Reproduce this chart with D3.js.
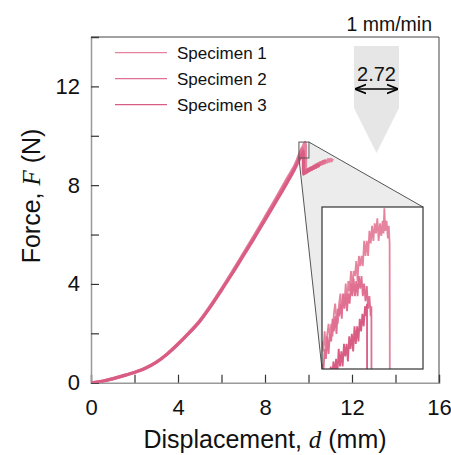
<!DOCTYPE html>
<html>
<head>
<meta charset="utf-8">
<script src="https://cdn.jsdelivr.net/npm/d3@7"></script>
<style>
  body { margin: 0; background: #fff; }
  text { font-family: "Liberation Sans", Arial, sans-serif; }
</style>
</head>
<body>
<script>
// ---- data ----
const specimenNames = ["Specimen 1", "Specimen 2", "Specimen 3"];
const specimenColors = ["#e6849f", "#e07092", "#d95c83"];

// [displacement mm, force N]
const specimen1 = [
  [0,0],[0.4,0.05],[0.8,0.13],[1.2,0.22],[1.6,0.32],[2.0,0.43],[2.5,0.6],[3.0,0.84],[3.5,1.17],[4.0,1.58],
  [4.5,2.03],[5.0,2.52],[5.5,3.13],[6.0,3.8],[6.5,4.5],[7.0,5.22],[7.5,5.95],[8.0,6.7],[8.5,7.46],[9.0,8.24],
  [9.5,9.06],
  [9.560,9.21],[9.566,9.17],[9.572,9.25],[9.578,9.18],[9.584,9.24],[9.590,9.28],[9.596,9.22],[9.602,9.28],
  [9.608,9.23],[9.614,9.32],[9.620,9.36],[9.626,9.30],[9.632,9.28],[9.638,9.36],[9.644,9.40],[9.650,9.33],
  [9.656,9.38],[9.662,9.36],[9.668,9.44],[9.674,9.36],[9.680,9.45],[9.686,9.41],[9.692,9.49],[9.698,9.42],
  [9.704,9.49],[9.710,9.47],[9.716,9.53],[9.722,9.45],[9.728,9.55],[9.734,9.51],[9.740,9.55],[9.746,9.51],
  [9.752,9.61],[9.758,9.55],[9.764,9.61],[9.770,9.55],[9.776,9.65],[9.782,9.60],[9.788,9.67],[9.794,9.61],
  [9.800,9.68],[9.806,9.64],[9.812,9.70],[9.818,9.61],[9.824,9.68],[9.830,9.63],[9.836,9.69],[9.840,9.64],
  [9.844,9.74],[9.848,9.65],[9.854,9.69],[9.860,9.62],[9.864,9.67],[9.868,9.60],[9.870,8.50],
  [9.90,8.52],[9.93,8.62],[9.96,8.55],[10.0,8.64],[10.05,8.58],[10.1,8.70],[10.15,8.64],[10.2,8.74],
  [10.25,8.68],[10.3,8.80],[10.35,8.74],[10.4,8.84],[10.45,8.78],[10.5,8.90],[10.55,8.83],[10.6,8.92],
  [10.65,8.86],[10.7,8.97],[10.75,8.90],[10.8,8.98],[10.85,8.93],[10.9,9.04],[10.95,8.96],[11.0,9.05],
  [11.05,8.98],[11.1,9.08]
];
const specimen2 = [
  [0,0],[0.4,0.03],[0.8,0.11],[1.2,0.2],[1.6,0.3],[2.0,0.41],[2.5,0.58],[3.0,0.82],[3.5,1.15],[4.0,1.55],
  [4.5,2.0],[5.0,2.49],[5.5,3.1],[6.0,3.77],[6.5,4.46],[7.0,5.18],[7.5,5.9],[8.0,6.65],[8.5,7.4],[9.0,8.17],
  [9.5,8.98],
  [9.560,9.12],[9.566,9.08],[9.572,9.18],[9.578,9.14],[9.584,9.23],[9.590,9.16],[9.596,9.24],[9.602,9.21],
  [9.608,9.30],[9.614,9.25],[9.620,9.31],[9.626,9.24],[9.632,9.34],[9.638,9.31],[9.644,9.36],[9.650,9.30],
  [9.656,9.40],[9.662,9.34],[9.668,9.40],[9.674,9.33],[9.680,9.40],[9.686,9.36],[9.692,9.44],[9.698,9.39],
  [9.704,9.46],[9.710,9.39],[9.716,9.45],[9.722,9.39],[9.728,9.47],[9.734,9.42],[9.740,9.47],[9.746,9.39],
  [9.752,9.44],[9.758,9.37],[9.764,9.43],[9.770,9.34],[9.776,9.39],[9.782,9.31],[9.785,9.35],[9.786,8.46],
  [9.82,8.49],[9.86,8.57],[9.9,8.52],[9.95,8.62],[10.0,8.57],[10.05,8.67],[10.1,8.62],[10.15,8.72],
  [10.2,8.68],[10.25,8.78],[10.3,8.72],[10.35,8.83],[10.4,8.78],[10.45,8.88],[10.5,8.82],[10.55,8.92],
  [10.6,8.87],[10.65,8.96],[10.7,8.9],[10.75,8.99],[10.8,8.95]
];
const specimen3 = [
  [0,0],[0.4,0.04],[0.8,0.12],[1.2,0.21],[1.6,0.31],[2.0,0.42],[2.5,0.59],[3.0,0.83],[3.5,1.16],[4.0,1.56],
  [4.5,2.0],[5.0,2.48],[5.5,3.08],[6.0,3.74],[6.5,4.42],[7.0,5.13],[7.5,5.84],[8.0,6.58],[8.5,7.32],[9.0,8.07],
  [9.5,8.9],
  [9.560,9.03],[9.570,9.01],[9.580,9.08],[9.590,9.04],[9.600,9.11],[9.606,9.06],[9.612,9.13],[9.618,9.08],
  [9.624,9.14],[9.630,9.08],[9.636,9.18],[9.642,9.11],[9.648,9.17],[9.654,9.11],[9.660,9.20],[9.666,9.15],
  [9.672,9.20],[9.678,9.13],[9.684,9.23],[9.690,9.18],[9.696,9.24],[9.702,9.17],[9.708,9.27],[9.714,9.20],
  [9.720,9.27],[9.726,9.21],[9.732,9.30],[9.738,9.25],[9.744,9.32],[9.750,9.27],[9.756,9.35],[9.762,9.31],
  [9.765,9.36],[9.766,8.44],
  [9.8,8.47],[9.84,8.55],[9.88,8.5],[9.92,8.6],[9.96,8.55],[10.0,8.64],[10.05,8.6],[10.1,8.68],
  [10.15,8.63],[10.2,8.73],[10.25,8.68],[10.3,8.77],[10.35,8.72],[10.4,8.82],[10.45,8.77],[10.5,8.86]
];
const specimens = [specimen1, specimen2, specimen3];

const xTicks = [0, 2, 4, 6, 8, 10, 12, 14, 16];
const yTicks = [0, 2, 4, 6, 8, 10, 12, 14];
const zoomX = [9.56, 10.02];   // zoomed window (mm)
const zoomY = [9.10, 9.745];   // zoomed window (N)
const rateLabel = "1 mm/min";
const widthLabel = "2.72";

// ---- layout ----
const W = 451, H = 455;
const plot = { left: 91, right: 439, top: 37, bottom: 382.7 };
const inset = { left: 322, right: 423, top: 207, bottom: 369 };

const svg = d3.select("body").append("svg")
  .attr("width", W)
  .attr("height", H);

const x = d3.scaleLinear().domain([0, 16]).range([plot.left, plot.right]);
const y = d3.scaleLinear().domain([0, 14]).range([plot.bottom, plot.top]);

const defs = svg.append("defs");
defs.append("clipPath").attr("id", "plotClip")
  .append("rect")
  .attr("x", plot.left).attr("y", plot.top)
  .attr("width", plot.right - plot.left).attr("height", plot.bottom - plot.top);
defs.append("clipPath").attr("id", "insetClip")
  .append("rect")
  .attr("x", inset.left).attr("y", inset.top)
  .attr("width", inset.right - inset.left).attr("height", inset.bottom - inset.top);
defs.append("marker").attr("id", "arrowHead")
  .attr("viewBox", "0 0 10 10").attr("refX", 9).attr("refY", 5)
  .attr("markerWidth", 7).attr("markerHeight", 7).attr("orient", "auto-start-reverse")
  .append("path").attr("d", "M0,1 L10,5 L0,9").attr("fill", "none").attr("stroke", "#000").attr("stroke-width", 1.6);

// speed indicator (grey arrow)
const ax0 = 354, ax1 = 399, ay0 = 46, ay1 = 108, aTip = 153;
svg.append("path")
  .attr("d", `M${ax0},${ay0}H${ax1}V${ay1}L${(ax0 + ax1) / 2},${aTip}L${ax0},${ay1}Z`)
  .attr("fill", "#e6e6e6");

// zoom connector (grey wedge)
const sTR = [x(zoomX[1]), y(zoomY[1])];
const sBL = [x(zoomX[0]), y(zoomY[0])];
svg.append("path")
  .attr("d", `M${sTR}L${inset.right},${inset.top}L${inset.right},${inset.bottom}L${inset.left},${inset.bottom}L${sBL}Z`)
  .attr("fill", "#ececec");
svg.append("rect")
  .attr("x", x(zoomX[0])).attr("y", y(zoomY[1]))
  .attr("width", x(zoomX[1]) - x(zoomX[0])).attr("height", y(zoomY[0]) - y(zoomY[1]))
  .attr("fill", "#fff");

// axes
const xAxis = svg.append("g")
  .attr("transform", `translate(0,${plot.bottom})`)
  .call(d3.axisBottom(x).tickValues(xTicks).tickSize(-8).tickPadding(17)
    .tickFormat(d => d % 4 === 0 ? d : ""));
const yAxis = svg.append("g")
  .attr("transform", `translate(${plot.left},0)`)
  .call(d3.axisLeft(y).tickValues(yTicks).tickSize(-8).tickPadding(11)
    .tickFormat(d => d % 4 === 0 ? d : ""));
[xAxis, yAxis].forEach(g => {
  g.select(".domain").attr("stroke", "#999").attr("stroke-width", 1.5);
  g.selectAll(".tick line").attr("stroke", "#333").attr("stroke-width", 1.2);
  g.selectAll(".tick text")
    .attr("fill", "#111")
    .style("font-family", "'Liberation Sans', Arial, sans-serif")
    .style("font-size", "22px");
});
// top and right frame
svg.append("path")
  .attr("d", `M${plot.left},${plot.top}H${plot.right}V${plot.bottom}`)
  .attr("fill", "none").attr("stroke", "#444").attr("stroke-width", 1);

// main curves
const line = d3.line().x(d => x(d[0])).y(d => y(d[1])).curve(d3.curveMonotoneX);
svg.append("g").attr("clip-path", "url(#plotClip)")
  .selectAll("path")
  .data(specimens)
  .join("path")
  .attr("d", line)
  .attr("fill", "none")
  .attr("stroke", (d, i) => specimenColors[i])
  .attr("stroke-width", 3)
  .attr("stroke-linejoin", "round");

// zoom frame and connector lines
svg.append("rect")
  .attr("x", x(zoomX[0])).attr("y", y(zoomY[1]))
  .attr("width", x(zoomX[1]) - x(zoomX[0])).attr("height", y(zoomY[0]) - y(zoomY[1]))
  .attr("fill", "none").attr("stroke", "#555").attr("stroke-width", 1);
svg.append("path")
  .attr("d", `M${sTR}L${inset.right},${inset.top}M${sBL}L${inset.left},${inset.bottom}`)
  .attr("stroke", "#555").attr("stroke-width", 1);

// inset
const xi = d3.scaleLinear().domain(zoomX).range([inset.left, inset.right]);
const yi = d3.scaleLinear().domain(zoomY).range([inset.bottom, inset.top]);
svg.append("rect")
  .attr("x", inset.left).attr("y", inset.top)
  .attr("width", inset.right - inset.left).attr("height", inset.bottom - inset.top)
  .attr("fill", "#fff");
const insetLine = d3.line().x(d => xi(d[0])).y(d => yi(d[1]));
svg.append("g").attr("clip-path", "url(#insetClip)")
  .selectAll("path")
  .data(specimens)
  .join("path")
  .attr("d", insetLine)
  .attr("fill", "none")
  .attr("stroke", (d, i) => specimenColors[i])
  .attr("stroke-width", 1.8);
svg.append("rect")
  .attr("x", inset.left).attr("y", inset.top)
  .attr("width", inset.right - inset.left).attr("height", inset.bottom - inset.top)
  .attr("fill", "none").attr("stroke", "#333").attr("stroke-width", 1.2);

// legend
const legend = svg.append("g").selectAll("g")
  .data(specimenNames)
  .join("g")
  .attr("transform", (d, i) => `translate(115,${52.7 + i * 26})`);
legend.append("line")
  .attr("x1", 0).attr("x2", 52)
  .attr("stroke", (d, i) => specimenColors[i]).attr("stroke-width", 1.3);
legend.append("text")
  .attr("x", 62).attr("dy", "0.35em")
  .style("font-size", "17px").attr("fill", "#111")
  .text(d => d);

// speed labels
svg.append("text")
  .attr("x", 432).attr("y", 31).attr("text-anchor", "end")
  .style("font-size", "19.5px").attr("fill", "#111")
  .text(rateLabel);
svg.append("text")
  .attr("x", (ax0 + ax1) / 2).attr("y", 81).attr("text-anchor", "middle")
  .style("font-size", "20px").attr("fill", "#111")
  .text(widthLabel);
svg.append("line")
  .attr("x1", ax0 + 2).attr("x2", ax1 - 2).attr("y1", 89).attr("y2", 89)
  .attr("stroke", "#000").attr("stroke-width", 1.6)
  .attr("marker-start", "url(#arrowHead)").attr("marker-end", "url(#arrowHead)");

// axis titles
const xt = svg.append("text")
  .attr("x", (plot.left + plot.right) / 2).attr("y", 448).attr("text-anchor", "middle")
  .style("font-size", "25px").attr("fill", "#111");
xt.append("tspan").text("Displacement, ");
xt.append("tspan").style("font-family", "'Liberation Serif', 'Times New Roman', serif").style("font-style", "italic").text("d");
xt.append("tspan").text(" (mm)");

const yt = svg.append("text")
  .attr("transform", "translate(40,196) rotate(-90)").attr("text-anchor", "middle")
  .style("font-size", "25px").attr("fill", "#111");
yt.append("tspan").text("Force, ");
yt.append("tspan").style("font-family", "'Liberation Serif', 'Times New Roman', serif").style("font-style", "italic").text("F");
yt.append("tspan").text(" (N)");
</script>
</body>
</html>
